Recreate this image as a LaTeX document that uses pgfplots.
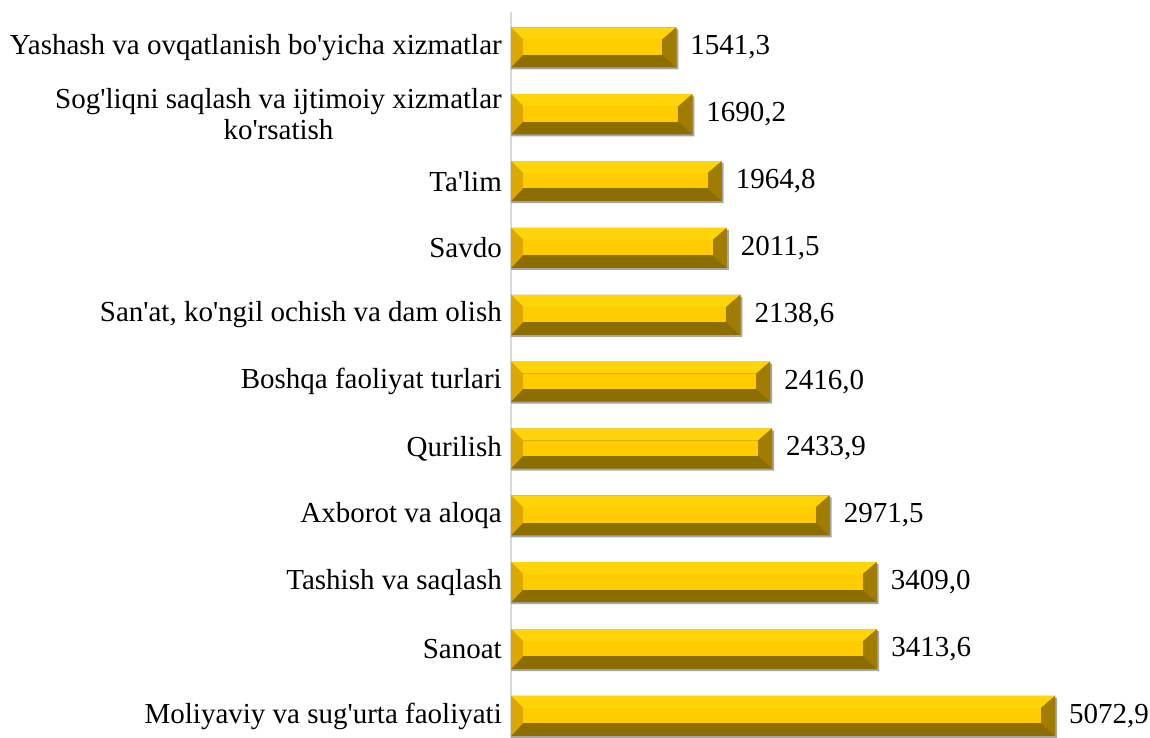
\documentclass[border=0pt]{standalone}
\usepackage{pgfplots}
\pgfplotsset{compat=1.18}
\usepackage{pgfplotstable}
\usepackage{fontspec}
\setmainfont{Liberation Serif}[Ligatures=TeXOff]
\definecolor{topc}{HTML}{FFD408}
\definecolor{innerc}{HTML}{FFCC00}
\definecolor{leftc}{HTML}{DCA800}
\definecolor{rightc}{HTML}{A07C00}
\definecolor{botc}{HTML}{8C6D00}
\definecolor{shadowc}{HTML}{A6A6A6}
\definecolor{axisc}{HTML}{D9D9D9}

\pgfplotstableread{
c v
0 5072.9
1 3413.6
2 3409.0
3 2971.5
4 2433.9
5 2416.0
6 2138.6
7 2011.5
8 1964.8
9 1690.2
10 1541.3
}\datatable

\begin{document}
\begin{tikzpicture}[font=\fontsize{29}{31}\selectfont]
\useasboundingbox (0,0) rectangle (1150pt,738pt);
\begin{axis}[
  at={(511pt,0pt)}, anchor=south west,
  scale only axis, width=639pt, height=726pt,
  xmin=0, xmax=5958.6, ymin=-0.33, ymax=10.53,
  axis x line=none, axis y line*=left,
  y axis line style={draw=axisc, line width=1.5pt},
  xtick=\empty, ytick={0,...,10},
  yticklabels={Moliyaviy va sug'urta faoliyati, Sanoat, Tashish va saqlash, Axborot va aloqa, Qurilish, Boshqa faoliyat turlari, {San'at, ko'ngil ochish va dam olish}, Savdo, Ta'lim, {Sog'liqni saqlash va ijtimoiy xizmatlar\\ko'rsatish}, Yashash va ovqatlanish bo'yicha xizmatlar},
  yticklabel style={font=\fontsize{29}{31}\selectfont, align=center, inner sep=0pt, xshift=-9pt},
  major tick length=0pt,
  clip=false,
  /pgf/number format/use comma,
  /pgf/number format/1000 sep={},
  /pgf/number format/fixed,
  /pgf/number format/fixed zerofill,
  /pgf/number format/precision=1,
  /pgf/number format/assume math mode=true,
]
\addplot[xbar, bar width=40pt, bar shift=-2pt, fill=shadowc, draw=none, forget plot]
  table[x expr=\thisrow{v}+19, y=c]{\datatable};
\addplot[xbar, bar width=40pt, fill=botc, draw=none, point meta=x,
  nodes near coords,
  nodes near coords style={anchor=west, inner sep=0pt, xshift=14pt, font=\fontsize{29}{31}\selectfont, text=black}]
  table[x=v, y=c]{\datatable};
\pgfplotsforeachungrouped \i in {0,...,10}{%
  \pgfplotstablegetelem{\i}{v}\of\datatable
  \let\v\pgfplotsretval
  \pgfmathsetmacro\xr{\v-130}%
  \pgfmathsetmacro\yt{\i+0.3}%
  \pgfmathsetmacro\yit{\i+0.12}%
  \pgfmathsetmacro\yib{\i-0.11}%
  \pgfmathsetmacro\yb{\i-0.3}%
  \edef\temp{%
    \noexpand\addplot[fill=topc, draw=none, forget plot] coordinates {(0,\yt) (\v,\yt) (\xr,\yit) (112,\yit)} -- cycle;
    \noexpand\addplot[fill=leftc, draw=none, forget plot] coordinates {(0,\yt) (112,\yit) (112,\yib) (0,\yb)} -- cycle;
    \noexpand\addplot[fill=rightc, draw=none, forget plot] coordinates {(\v,\yt) (\v,\yb) (\xr,\yib) (\xr,\yit)} -- cycle;
    \noexpand\addplot[fill=innerc, draw=none, forget plot] coordinates {(112,\yib) (\xr,\yib) (\xr,\yit) (112,\yit)} -- cycle;
  }%
  \temp
}
\end{axis}
\end{tikzpicture}
\end{document}
